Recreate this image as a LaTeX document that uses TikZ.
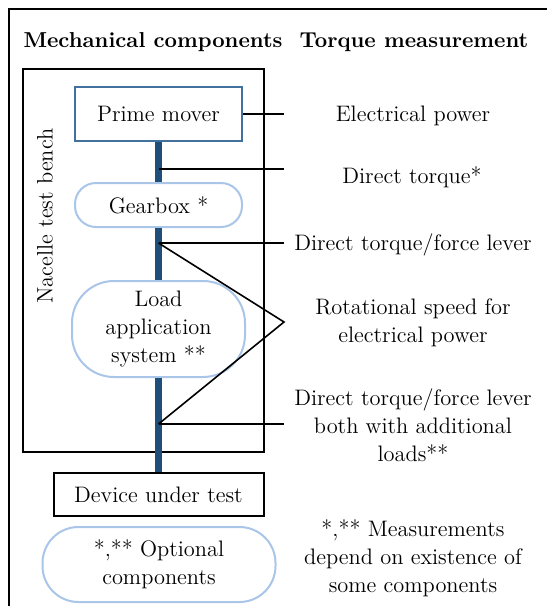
\documentclass[tikz,border=0pt]{standalone}
\usepackage{xcolor}
\usepackage{tikz}
\definecolor{shaftblue}{HTML}{1F4E79}
\definecolor{moverblue}{HTML}{41719C}
\definecolor{pillblue}{HTML}{A9C5E8}
\tikzset{
  txt/.style={font=\fontsize{11.2}{14}\selectfont},
  shaft/.style={draw=shaftblue,line width=3.5pt},
  tap/.style={draw=black,line width=0.8pt},
  frame/.style={draw=black,line width=1pt,inner sep=0pt},
  comp/.style={txt,draw=black,line width=1pt,align=center,inner sep=2pt},
  mover/.style={comp,draw=moverblue},
  pill/.style={comp,draw=pillblue},
  meas/.style={txt,align=center,inner sep=0pt},
  head/.style={font=\fontsize{10.8}{14}\selectfont\bfseries,inner sep=0pt}
}

\begin{document}
\begin{tikzpicture}[x=0.5pt,y=-0.5pt]
  \useasboundingbox (0,0) rectangle (547,606);
  \draw[frame] (8.5,9) rectangle (620,660);
  \node[head] (mech) at (153,42) {Mechanical components};
  \node[head] (torq) at (414,42) {Torque measurement};
  \node[frame,minimum width=120.65pt,minimum height=191.5pt] (bench) at (143.35,260.5) {};
  \node[txt,rotate=90,inner sep=0pt] (benchlbl) at (45,216) {Nacelle test bench};
  \node[mover,minimum width=83.25pt,minimum height=27pt] (prime) at (158.5,114) {Prime mover};
  \node[pill,rounded corners=10.5pt,minimum width=83.5pt,minimum height=22pt] (gear) at (158.5,205) {Gearbox *};
  \node[pill,rounded corners=21pt,minimum width=86.5pt,minimum height=48pt] (load) at (158.5,329) {Load\\application\\system **};
  \node[comp,minimum width=105pt,minimum height=21.5pt] (dut) at (158.5,494.5) {Device under test};
  \node[pill,rounded corners=18pt,minimum width=116.5pt,minimum height=37.5pt] (opt) at (159,564.5) {*,** Optional\\components};
  % shaft
  \draw[shaft] (prime.south)--(gear.north);
  \draw[shaft] (gear.south)--(load.north);
  \draw[shaft] (load.south)--(dut.north);
  % measuring points
  \coordinate (tap1) at (158.5,169);
  \coordinate (tap2) at (158.5,243);
  \coordinate (tap3) at (158.5,424);
  \coordinate (end0) at (284,114);
  \coordinate (end1) at (284,169);
  \coordinate (end2) at (284,243);
  \coordinate (vtx) at (284,322);
  \coordinate (end3) at (284,424);
  \draw[tap] (prime.east)--(end0);
  \draw[tap] (tap1)--(end1);
  \draw[tap] (tap2)--(end2);
  \draw[tap] (tap2)--(vtx)--(tap3);
  \draw[tap] (tap3)--(end3);
  \node[meas] (elec) at (413,116) {Electrical power};
  \node[meas] (direct) at (412,177) {Direct torque*};
  \node[meas] (lever) at (413,245) {Direct torque/force lever};
  \node[meas] (speed) at (413,323) {Rotational speed for\\electrical power};
  \node[meas] (leverload) at (413,425) {Direct torque/force lever\\both with additional\\loads**};
  \node[meas] (note) at (413,558) {*,** Measurements\\depend on existence of\\some components};
\end{tikzpicture}
\end{document}
